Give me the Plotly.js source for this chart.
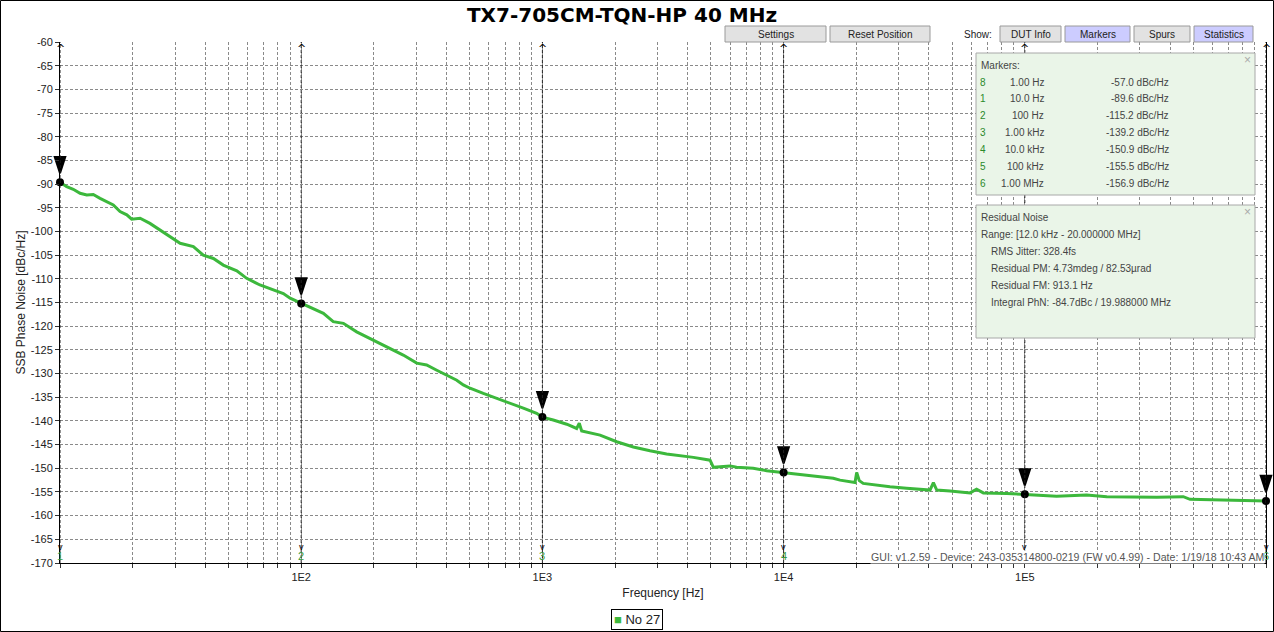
<!DOCTYPE html>
<html><head><meta charset="utf-8">
<script src="https://cdn.plot.ly/plotly-3.0.1.min.js"></script>
<style>html,body{margin:0;padding:0;background:#fff}#chart{width:1274px;height:632px}</style>
</head><body><div id="chart"></div>
<script>
// ---- data ----
const freqHz = [10, 10.66, 11.35, 12.11, 12.91, 13.74, 14.66, 15.63, 16.63, 17.74, 18.92, 19.82, 21.48, 23.6, 26.0, 28.58, 31.48, 35.73, 39.26, 43.25, 47.53, 54.08, 59.43, 67.45, 76.56, 84.33, 89.95, 100, 108.6, 123.6, 135.8, 149.6, 169.8, 192.8, 212.3, 233.3, 264.9, 301.3, 331.1, 364.8, 400.9, 441.6, 469.9, 501.2, 568.9, 647.1, 734.5, 833.7, 946.2, 1000, 1109, 1262, 1387, 1422, 1455, 1734, 2032, 2382, 2793, 3273, 4227, 4955, 5117, 5998, 6383, 7482, 8511, 10000, 11700, 16070, 17140, 19770, 20090, 20600, 21380, 23550, 27610, 32360, 40460, 41780, 43150, 48980, 59290, 63100, 67300, 84140, 100000, 135500, 180300, 218800, 352400, 454000, 484200, 665300, 779800, 1000000];
const phaseNoiseDb = [-89.6, -90.55, -91.1, -91.95, -92.3, -92.2, -93.0, -93.7, -94.4, -95.8, -96.5, -97.4, -97.2, -98.3, -99.7, -101.1, -102.5, -103.2, -105.0, -105.7, -107.1, -108.3, -109.9, -111.3, -112.4, -113.1, -114.1, -115.2, -115.9, -117.3, -119.05, -119.4, -121.2, -122.6, -123.6, -124.7, -126.1, -127.8, -128.2, -129.3, -130.3, -131.4, -132.4, -133.1, -134.2, -135.2, -136.3, -137.3, -138.4, -139.2, -139.8, -140.7, -141.6, -140.5, -142.1, -143.0, -144.4, -145.5, -146.3, -147.0, -147.7, -148.3, -149.8, -149.5, -149.8, -150.0, -150.5, -150.9, -151.4, -152.1, -152.5, -153.0, -150.9, -152.6, -153.2, -153.5, -153.9, -154.2, -154.6, -153.05, -154.6, -154.8, -155.2, -154.4, -155.2, -155.3, -155.5, -155.9, -155.65, -156.0, -156.1, -156.0, -156.55, -156.7, -156.85, -156.9];
const seriesName = 'No 27';

const markerIds = ['1', '2', '3', '4', '5', '6'];
const markerFreq = [10, 100, 1000, 10000, 100000, 1000000];
const markerDb = [-89.6, -115.2, -139.2, -150.9, -155.5, -156.9];
const hiddenMarkerLabels = ['5'];

const tableIds = ['8', '1', '2', '3', '4', '5', '6'];
const tableFreqText = ['1.00 Hz', '10.0 Hz', '100 Hz', '1.00 kHz', '10.0 kHz', '100 kHz', '1.00 MHz'];
const tableDb = [-57.0, -89.6, -115.2, -139.2, -150.9, -155.5, -156.9];

const residualTitle = ['Residual Noise', 'Range: [12.0 kHz - 20.000000 MHz]'];
const residualItems = ['RMS Jitter: 328.4fs', 'Residual PM: 4.73mdeg / 82.53µrad', 'Residual FM: 913.1 Hz', 'Integral PhN: -84.7dBc / 19.988000 MHz'];

const xTickVals = [10, 100, 1000, 10000, 100000, 1000000];
const xTickText = ['', '1E2', '1E3', '1E4', '1E5', '1E6'];
const yTickVals = [-60, -65, -70, -75, -80, -85, -90, -95, -100, -105, -110, -115, -120, -125, -130, -135, -140, -145, -150, -155, -160, -165, -170];

const buttonLabels = ['Settings', 'Reset Position', 'DUT Info', 'Markers', 'Spurs', 'Statistics'];
const buttonActive = [false, false, false, true, false, true];

const chartTitle = 'TX7-705CM-TQN-HP 40 MHz';
const footerText = 'GUI: v1.2.59 - Device: 243-035314800-0219 (FW v0.4.99) - Date: 1/19/18 10:43 AM';

// ---- geometry helpers ----
const PL = 60, PR = 1266, PT = 42, PB = 563;
const px2x = p => (p - PL) / (PR - PL);
const py2y = p => (PB - p) / (PB - PT);

const minorVals = [];
for (let d = 10; d < 1000000; d *= 10) for (let k = 2; k <= 9; k++) minorVals.push(d * k);

const green = '#3cb83c';
const txtFont = 'Liberation Sans, Arial, sans-serif';

const shapes = [];
const annotations = [];

// outer frame
shapes.push({type: 'rect', xref: 'paper', yref: 'paper', x0: px2x(0.5), x1: px2x(1273.5), y0: py2y(0.5), y1: py2y(631.5), line: {color: '#000', width: 1}, fillcolor: 'rgba(0,0,0,0)', layer: 'below'});

// marker lines, arrows, labels
markerFreq.forEach((f, i) => {
  shapes.push({type: 'line', xref: 'x', yref: 'paper', x0: f, x1: f, y0: 0, y1: 1, line: {color: '#222', width: 1, dash: '3px,2px'}});
  annotations.push({xref: 'x', yref: 'paper', x: Math.log10(f), y: 1, yanchor: 'top', xanchor: 'center', yshift: 2, text: '^', showarrow: false, font: {family: 'DejaVu Sans, sans-serif', size: 11, color: '#000'}});
  annotations.push({xref: 'x', yref: 'paper', x: Math.log10(f), y: 0, yanchor: 'bottom', xanchor: 'center', yshift: 9, text: 'v', showarrow: false, font: {family: txtFont, size: 9, color: '#000'}});
  if (!hiddenMarkerLabels.includes(markerIds[i])) {
    annotations.push({xref: 'x', yref: 'paper', x: Math.log10(f), y: 0, yanchor: 'bottom', xanchor: 'center', yshift: -1, text: markerIds[i], showarrow: false, font: {family: txtFont, size: 11, color: '#3a9a3a'}});
  }
});

// buttons
const btnBoxes = [[725, 826], [830, 930], [1000, 1061], [1065, 1130], [1134, 1190], [1194, 1253]];
buttonLabels.forEach((b, i) => {
  const [a, c] = btnBoxes[i];
  shapes.push({type: 'rect', xref: 'paper', yref: 'paper', x0: px2x(a), x1: px2x(c), y0: py2y(42), y1: py2y(26), fillcolor: buttonActive[i] ? '#ccccff' : '#e2e2e2', line: {color: '#9a9a9a', width: 1}});
  annotations.push({xref: 'paper', yref: 'paper', x: px2x((a + c) / 2), y: py2y(34), xanchor: 'center', yanchor: 'middle', text: b, showarrow: false, font: {family: txtFont, size: 10, color: '#222'}});
});
annotations.push({xref: 'paper', yref: 'paper', x: px2x(994), y: py2y(34), xanchor: 'right', yanchor: 'middle', text: 'Show:', showarrow: false, font: {family: txtFont, size: 10, color: '#222'}});

// markers panel
shapes.push({type: 'rect', xref: 'paper', yref: 'paper', x0: px2x(976), x1: px2x(1255), y0: py2y(195), y1: py2y(53), fillcolor: '#eaf5e8', line: {color: '#a8a8a8', width: 1}});
annotations.push({xref: 'paper', yref: 'paper', x: px2x(979), y: py2y(65), xanchor: 'left', yanchor: 'middle', text: 'Markers:', showarrow: false, font: {family: txtFont, size: 10, color: '#444'}});
annotations.push({xref: 'paper', yref: 'paper', x: px2x(1247), y: py2y(60), xanchor: 'center', yanchor: 'middle', text: '×', showarrow: false, font: {family: txtFont, size: 12, color: '#aaa'}});
tableIds.forEach((id, i) => {
  const yy = py2y(82 + 16.85 * i);
  annotations.push({xref: 'paper', yref: 'paper', x: px2x(978), y: yy, xanchor: 'left', yanchor: 'middle', text: id, showarrow: false, font: {family: txtFont, size: 10, color: '#2a8a2a'}});
  annotations.push({xref: 'paper', yref: 'paper', x: px2x(1046), y: yy, xanchor: 'right', yanchor: 'middle', text: tableFreqText[i], showarrow: false, font: {family: txtFont, size: 10, color: '#444'}});
  annotations.push({xref: 'paper', yref: 'paper', x: px2x(1171), y: yy, xanchor: 'right', yanchor: 'middle', text: tableDb[i].toFixed(1) + ' dBc/Hz', showarrow: false, font: {family: txtFont, size: 10, color: '#444'}});
});

// residual panel
shapes.push({type: 'rect', xref: 'paper', yref: 'paper', x0: px2x(976), x1: px2x(1255), y0: py2y(338), y1: py2y(205), fillcolor: '#eaf5e8', line: {color: '#a8a8a8', width: 1}});
annotations.push({xref: 'paper', yref: 'paper', x: px2x(1247), y: py2y(212), xanchor: 'center', yanchor: 'middle', text: '×', showarrow: false, font: {family: txtFont, size: 12, color: '#aaa'}});
residualTitle.concat(residualItems).forEach((t, i) => {
  const indent = i < residualTitle.length ? 979 : 989;
  annotations.push({xref: 'paper', yref: 'paper', x: px2x(indent), y: py2y(217 + 17 * i), xanchor: 'left', yanchor: 'middle', text: t, showarrow: false, font: {family: txtFont, size: 10, color: '#444'}});
});

// footer stamp
annotations.push({xref: 'paper', yref: 'paper', x: px2x(1265), y: py2y(557), xanchor: 'right', yanchor: 'middle', text: footerText, showarrow: false, bgcolor: '#fff', borderpad: 0, font: {family: txtFont, size: 10.6, color: '#555'}});

// legend box
annotations.push({xref: 'paper', yref: 'paper', x: px2x(637), y: py2y(619), xanchor: 'center', yanchor: 'middle', text: '<span style="color:' + green + '">■</span> ' + seriesName, showarrow: false, bordercolor: '#000', borderwidth: 1, borderpad: 2, bgcolor: '#fff', font: {family: txtFont, size: 13, color: '#222'}});

const traces = [
  {type: 'scatter', mode: 'lines', x: freqHz, y: phaseNoiseDb, name: seriesName, line: {color: green, width: 3}, showlegend: false},
  {type: 'scatter', mode: 'markers', x: markerFreq, y: markerDb, name: 'marker flags', marker: {symbol: 'arrow', angle: 180, standoff: 9, size: 17, color: '#000', line: {color: '#000', width: 2}}, cliponaxis: false, showlegend: false},
  {type: 'scatter', mode: 'markers', x: markerFreq, y: markerDb, name: 'markers', marker: {color: '#000', size: 8}, cliponaxis: false, showlegend: false}
];

const layout = {
  width: 1274, height: 632,
  margin: {l: PL, r: 1274 - PR, t: PT, b: 632 - PB},
  paper_bgcolor: '#fff', plot_bgcolor: '#fff',
  showlegend: false,
  hovermode: false,
  font: {family: txtFont, size: 11, color: '#333'},
  title: {text: '<b>' + chartTitle + '</b>', xref: 'container', yref: 'container', x: 622 / 1274, y: 1 - 15 / 632, xanchor: 'center', yanchor: 'middle', font: {family: 'DejaVu Sans, sans-serif', size: 20, color: '#000'}},
  xaxis: {
    type: 'log', range: [1, 6], tickmode: 'array', tickvals: xTickVals, ticktext: xTickText,
    showgrid: true, gridcolor: '#8a8a8a', griddash: '3px,2px', gridwidth: 1,
    ticks: 'outside', ticklen: 4, tickcolor: '#333',
    minor: {tickmode: 'array', tickvals: minorVals, ticks: 'outside', ticklen: 4, tickcolor: '#333', showgrid: true, gridcolor: '#8a8a8a', griddash: '3px,2px', gridwidth: 1},
    showline: true, linecolor: '#000', linewidth: 1, zeroline: false,
    tickfont: {family: txtFont, size: 11, color: '#222'},
    title: {text: 'Frequency [Hz]', font: {family: txtFont, size: 12, color: '#222'}, standoff: 6}
  },
  yaxis: {
    range: [-170, -60], tickmode: 'array', tickvals: yTickVals, ticktext: yTickVals.map(v => String(v)),
    showgrid: true, gridcolor: '#8a8a8a', griddash: '3px,2px', gridwidth: 1,
    ticks: 'outside', ticklen: 4, tickcolor: '#333',
    showline: true, mirror: true, linecolor: '#000', linewidth: 1, zeroline: false,
    tickfont: {family: txtFont, size: 11, color: '#222'},
    title: {text: 'SSB Phase Noise [dBc/Hz]', font: {family: txtFont, size: 12, color: '#222'}, standoff: 2}
  },
  shapes: shapes,
  annotations: annotations
};

Plotly.newPlot('chart', traces, layout, {displayModeBar: false, staticPlot: true});
</script>
</body></html>
